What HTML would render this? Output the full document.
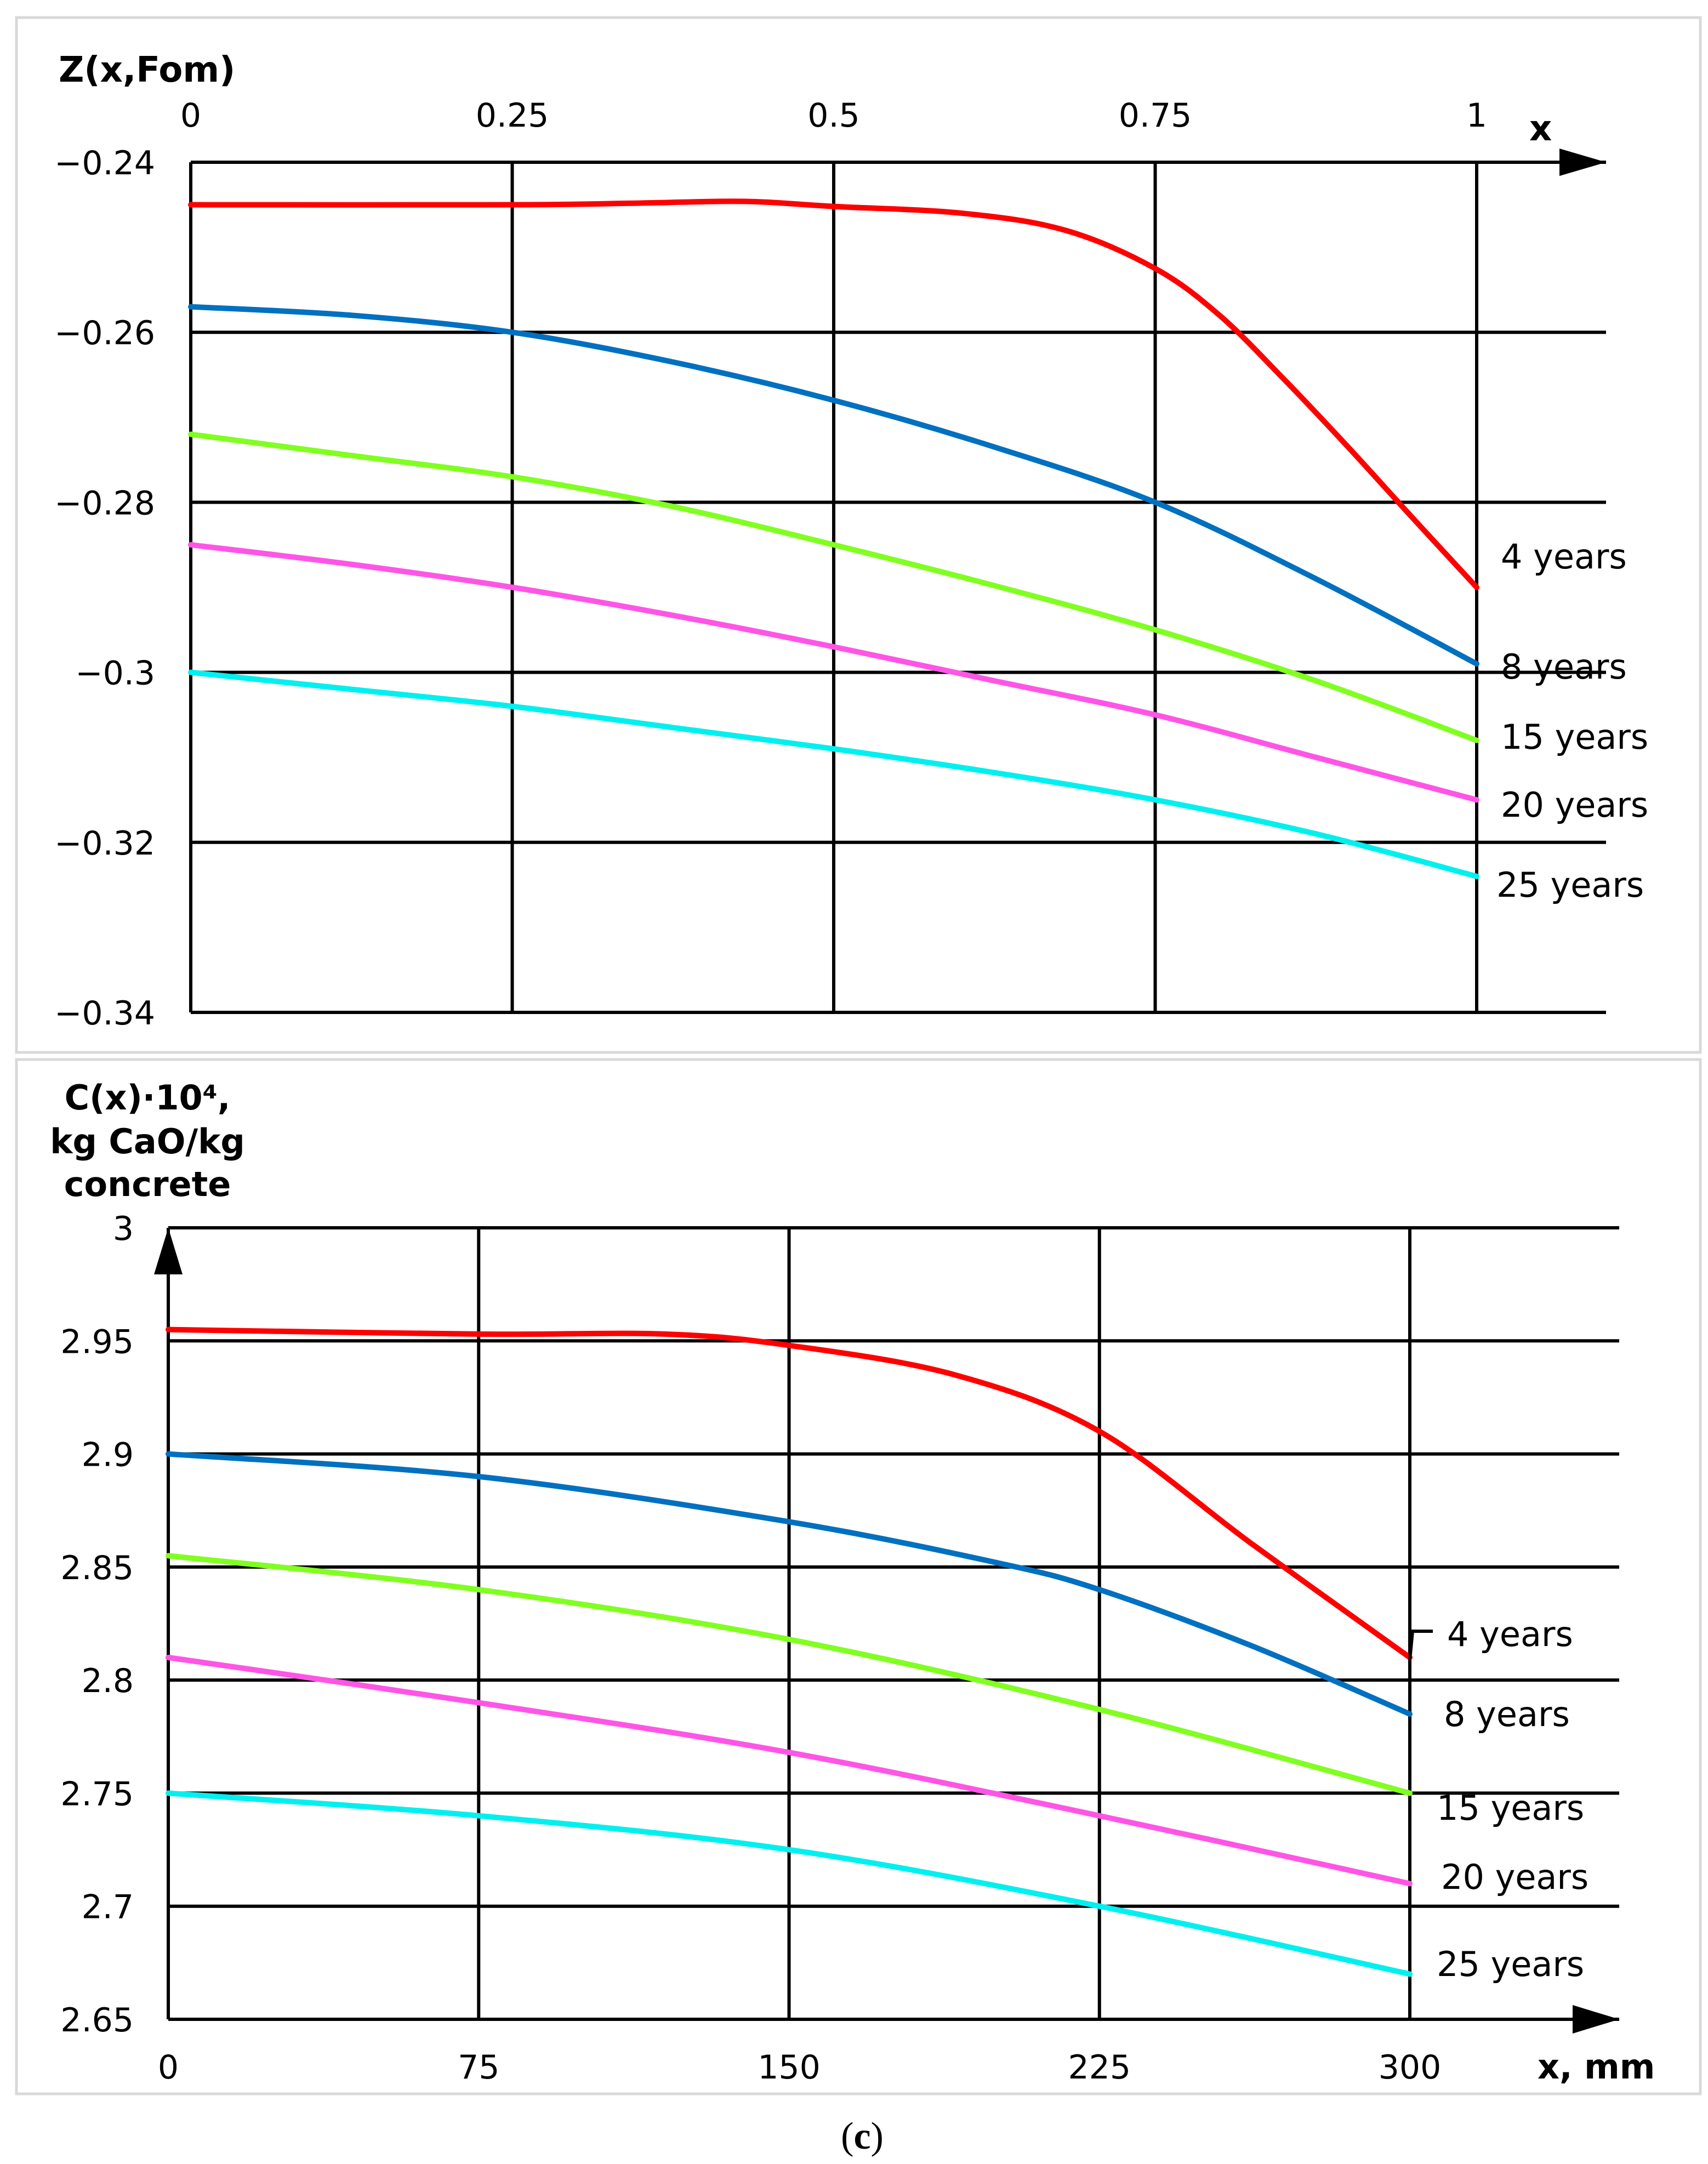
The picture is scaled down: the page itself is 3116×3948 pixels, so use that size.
<!DOCTYPE html>
<html><head><meta charset="utf-8"><style>
html,body{margin:0;padding:0;background:#fff;}
svg{display:block;}
text{font-family:"DejaVu Sans","Liberation Sans",sans-serif;}
</style></head><body>
<svg id="fig" width="3116" height="3948" viewBox="0 0 3116 3948" xmlns="http://www.w3.org/2000/svg">
<rect x="30" y="32" width="3072" height="1888" fill="none" stroke="#d9d9d9" stroke-width="5"/>
<rect x="30" y="1933" width="3072" height="1887" fill="none" stroke="#d9d9d9" stroke-width="5"/>
<g id="top"></g>
<g id="bot"></g>
<text x="1573" y="3920" font-size="70" text-anchor="middle" style="font-family:'Liberation Serif',serif">(<tspan font-weight="bold">c</tspan>)</text>
</svg>
<script>
// ---- top chart data ----
const topXTicks = [0, 0.25, 0.5, 0.75, 1];
const topXTickLabels = ["0", "0.25", "0.5", "0.75", "1"];
const topYTicks = [-0.24, -0.26, -0.28, -0.3, -0.32, -0.34];
const topYTickLabels = ["\u22120.24", "\u22120.26", "\u22120.28", "\u22120.3", "\u22120.32", "\u22120.34"];
const topRedX = [0, 0.25, 0.35, 0.43, 0.5, 0.6, 0.68, 0.75, 0.8, 0.85, 0.9, 0.95, 1];
const topRedY = [-0.245, -0.245, -0.2448, -0.2446, -0.2452, -0.246, -0.248, -0.2525, -0.258, -0.2655, -0.2735, -0.2818, -0.290];
const topX = [0, 0.125, 0.25, 0.375, 0.5, 0.625, 0.75, 0.875, 1];
const topBlueY = [-0.257, -0.258, -0.26, -0.2635, -0.268, -0.2735, -0.28, -0.289, -0.299];
const topGreenY = [-0.272, -0.2745, -0.277, -0.2805, -0.285, -0.2898, -0.295, -0.301, -0.308];
const topPinkY = [-0.285, -0.2873, -0.290, -0.2933, -0.297, -0.301, -0.305, -0.310, -0.315];
const topCyanY = [-0.300, -0.302, -0.304, -0.3065, -0.309, -0.3118, -0.315, -0.319, -0.324];
// ---- bottom chart data ----
const botXTicks = [0, 75, 150, 225, 300];
const botXTickLabels = ["0", "75", "150", "225", "300"];
const botYTicks = [3, 2.95, 2.9, 2.85, 2.8, 2.75, 2.7, 2.65];
const botYTickLabels = ["3", "2.95", "2.9", "2.85", "2.8", "2.75", "2.7", "2.65"];
const botRedX = [0, 75, 120, 150, 190, 225, 262, 300];
const botRedY = [2.955, 2.953, 2.953, 2.948, 2.935, 2.91, 2.86, 2.81];
const botBlueX = [0, 75, 150, 200, 225, 262, 300];
const botBlueY = [2.9, 2.89, 2.87, 2.852, 2.84, 2.815, 2.785];
const botX = [0, 75, 150, 225, 300];
const botGreenY = [2.855, 2.84, 2.818, 2.787, 2.75];
const botPinkY = [2.81, 2.79, 2.768, 2.74, 2.71];
const botCyanY = [2.75, 2.74, 2.725, 2.70, 2.67];
const seriesNames = ["4 years", "8 years", "15 years", "20 years", "25 years"];

const NS = "http://www.w3.org/2000/svg";
function mk(parent, tag, attrs, txt) {
  const e = document.createElementNS(NS, tag);
  for (const k in attrs) e.setAttribute(k, attrs[k]);
  if (txt !== undefined) e.textContent = txt;
  parent.appendChild(e);
  return e;
}
function smooth(pts) {
  let d = "M" + pts[0][0] + "," + pts[0][1];
  for (let i = 0; i < pts.length - 1; i++) {
    const p0 = pts[Math.max(0, i - 1)], p1 = pts[i], p2 = pts[i + 1], p3 = pts[Math.min(pts.length - 1, i + 2)];
    const c1 = [p1[0] + (p2[0] - p0[0]) / 6, p1[1] + (p2[1] - p0[1]) / 6];
    const c2 = [p2[0] - (p3[0] - p1[0]) / 6, p2[1] - (p3[1] - p1[1]) / 6];
    d += " C" + c1[0] + "," + c1[1] + " " + c2[0] + "," + c2[1] + " " + p2[0] + "," + p2[1];
  }
  return d;
}
const colors = ["#ff0000", "#0070c0", "#80ff20", "#ff55e6", "#00f0f0"];

// ---- top chart ----
(function () {
  const g = document.getElementById("top");
  const X0 = 348, X1 = 2694, Y0 = 296, Y1 = 1847, GR = 2930;
  const sx = v => X0 + (v - 0) / (1 - 0) * (X1 - X0);
  const sy = v => Y0 + (v - (-0.24)) / (-0.34 - (-0.24)) * (Y1 - Y0);
  topYTicks.forEach((t, i) => {
    const l = mk(g, "line", { x1: X0, x2: GR, y1: sy(t), y2: sy(t), stroke: "#000", "stroke-width": 6 });
    
    
    const tx = mk(g, "text", { x: 283, y: sy(t) + 22, "font-size": 60, "text-anchor": "end" }, topYTickLabels[i]);
    
    
  });
  topXTicks.forEach((t, i) => {
    const l = mk(g, "line", { x1: sx(t), x2: sx(t), y1: Y0, y2: Y1, stroke: "#000", "stroke-width": 6 });
    
    
    const tx = mk(g, "text", { x: sx(t), y: 231, "font-size": 60, "text-anchor": "middle" }, topXTickLabels[i]);
    
    
  });
  const ar = mk(g, "polygon", { points: (GR - 85) + "," + (Y0 - 25) + " " + GR + "," + Y0 + " " + (GR - 85) + "," + (Y0 + 25), fill: "#000" });
  
  
  const t1 = mk(g, "text", { x: 107, y: 149, "font-size": 64, "font-weight": "bold" }, "Z(x,Fom)");
  
  
  const t2 = mk(g, "text", { x: 2790, y: 256, "font-size": 64, "font-weight": "bold" }, "x");
  
  
  const sets = [[topRedX, topRedY], [topX, topBlueY], [topX, topGreenY], [topX, topPinkY], [topX, topCyanY]];
  sets.forEach((s, k) => {
    const pts = s[0].map((x, i) => [sx(x), sy(s[1][i])]);
    const p = mk(g, "path", { d: smooth(pts), fill: "none", stroke: colors[k], "stroke-width": 10, "stroke-linecap": "round" });
    
    
  });
  const labY = [1015, 1216, 1344, 1468, 1614];
  const labX = [2738, 2738, 2738, 2738, 2730];
  seriesNames.forEach((n, k) => {
    const t = mk(g, "text", { x: labX[k], y: labY[k] + 22, "font-size": 62 }, n);
    
    
  });
})();

// ---- bottom chart ----
(function () {
  const g = document.getElementById("bot");
  const X0 = 307, X1 = 2572, Y0 = 2240, Y1 = 3684, GR = 2954;
  const sx = v => X0 + v / 300 * (X1 - X0);
  const sy = v => Y0 + (v - 3) / (2.65 - 3) * (Y1 - Y0);
  botYTicks.forEach((t, i) => {
    const l = mk(g, "line", { x1: X0, x2: GR, y1: sy(t), y2: sy(t), stroke: "#000", "stroke-width": 6 });
    
    
    const tx = mk(g, "text", { x: 244, y: sy(t) + 22, "font-size": 60, "text-anchor": "end" }, botYTickLabels[i]);
    
    
  });
  botXTicks.forEach((t, i) => {
    const l = mk(g, "line", { x1: sx(t), x2: sx(t), y1: Y0, y2: Y1, stroke: "#000", "stroke-width": 6 });
    
    
    const tx = mk(g, "text", { x: sx(t), y: 3792, "font-size": 60, "text-anchor": "middle" }, botXTickLabels[i]);
    
    
  });
  const ar = mk(g, "polygon", { points: (GR - 85) + "," + (Y1 - 26) + " " + GR + "," + Y1 + " " + (GR - 85) + "," + (Y1 + 26), fill: "#000" });
  
  
  const ay = mk(g, "polygon", { points: (X0 - 26) + "," + (Y0 + 85) + " " + X0 + "," + Y0 + " " + (X0 + 26) + "," + (Y0 + 85), fill: "#000" });
  
  
  const titles = [["C(x)\u00b710\u2074,", 2024], ["kg CaO/kg", 2104], ["concrete", 2182]];
  titles.forEach(tt => {
    const t = mk(g, "text", { x: 269, y: tt[1], "font-size": 62, "font-weight": "bold", "text-anchor": "middle" }, tt[0]);
    
    
  });
  const xt = mk(g, "text", { x: 2805, y: 3792, "font-size": 62, "font-weight": "bold" }, "x, mm");
  
  
  const sets = [[botRedX, botRedY], [botBlueX, botBlueY], [botX, botGreenY], [botX, botPinkY], [botX, botCyanY]];
  sets.forEach((s, k) => {
    const pts = s[0].map((x, i) => [sx(x), sy(s[1][i])]);
    const p = mk(g, "path", { d: smooth(pts), fill: "none", stroke: colors[k], "stroke-width": 10, "stroke-linecap": "round" });
    
    
  });
  const lead = mk(g, "path", { d: "M2572,3028 L2577,2976 L2614,2976", fill: "none", stroke: "#000", "stroke-width": 6 });
  
  
  const labY = [2981, 3127, 3298, 3424, 3583];
  const labX = [2640, 2634, 2621, 2629, 2621];
  seriesNames.forEach((n, k) => {
    const t = mk(g, "text", { x: labX[k], y: labY[k] + 22, "font-size": 62 }, n);
    
    
  });
})();
</script>
</body></html>
